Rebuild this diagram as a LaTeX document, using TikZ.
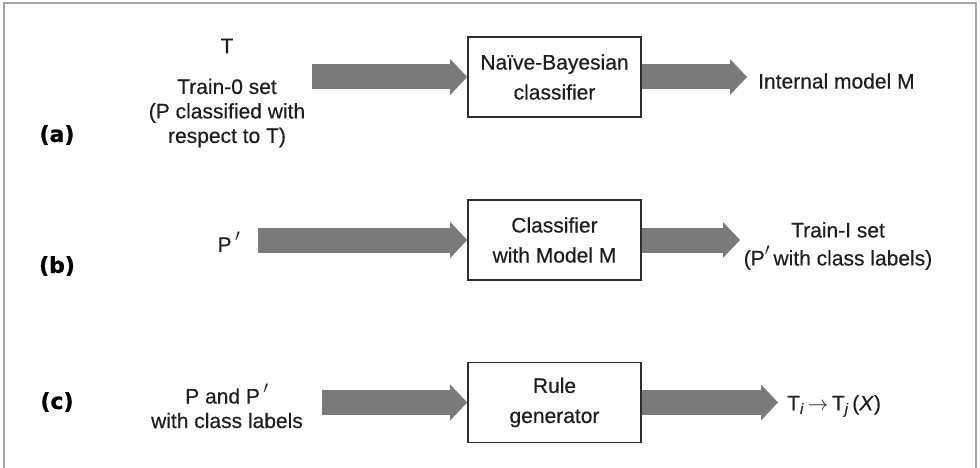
\documentclass[tikz,border=0pt]{standalone}
\usepackage{fontspec}
\setmainfont[FakeBold=0.4]{Liberation Sans}
\newfontfamily\tagfont[FakeBold=1.2]{DejaVu Sans}
\usetikzlibrary{arrows.meta}

\definecolor{arrowgray}{HTML}{7A7A7A}
\definecolor{boxgray}{HTML}{2E2E2E}
\definecolor{framegray}{HTML}{A6A6A6}
\definecolor{textgray}{HTML}{1E1E1E}

\newcommand{\bigprime}{\raisebox{0.1ex}{\fontsize{27}{27}\selectfont$'$}}

\tikzset{
    fatarrow/.style = {arrowgray, line width=25pt, -{Triangle[length=17pt, width=36pt, line width=0pt]}},
    procbox/.style = {draw=boxgray, line width=1.6pt, fill=white, minimum width=173pt, minimum height=80pt,
        align=center, text=textgray, font={\fontsize{21}{30}\selectfont}},
    datatext/.style = {inner sep=0pt, align=center, text=textgray, font={\fontsize{21}{24.5}\selectfont}},
    rowtag/.style = {inner sep=0pt, text=black, font={\tagfont\bfseries\fontsize{22}{24}\selectfont}}
}

\begin{document}
\begin{tikzpicture}[x=1pt, y=-1pt]
        \useasboundingbox (0, 0) rectangle (980, 468);
        \draw[framegray, line width=2pt] (4, 468) -- (4, 3) -- (976, 3) -- (976, 468);

        \node[rowtag] (tagA) at (57, 135) {(a)};
        \node[rowtag] (tagB) at (57, 266) {(b)};
        \node[rowtag] (tagC) at (57, 402) {(c)};

        \node[procbox] (bayes) at (554.5, 77) {Naïve-Bayesian\\classifier};
        \node[procbox] (classify) at (554.5, 240) {Classifier\\with Model M};
        \node[procbox] (rulegen) at (554.5, 402.5) {Rule\\generator};

        \node[datatext] (taxonomy) at (227, 46) {T};
        \node[datatext] (trainzero) at (227, 113) {Train-0 set\\(P classified with\\respect to T)};
        \node[datatext] (pprime) at (229, 242) {P\,\bigprime};
        \node[datatext] (pboth) at (227, 406) {P and P\,\bigprime\\with class labels};

        \node[datatext, anchor=west] (model) at (758, 81) {Internal model M};
        \node[datatext, font={\fontsize{21}{28}\selectfont}] (trainone) at (838, 246) {Train-I set\\(P\bigprime\,with class labels)};
        \node[datatext, anchor=west] (rules) at (787, 406) {T\textsubscript{\textit{i}}\,$\rightarrow$\,T\textsubscript{\textit{j}}\,(\textit{X})};

        \coordinate (inA) at (312, 77);
        \coordinate (outA) at (747, 77);
        \coordinate (inB) at (258, 240);
        \coordinate (outB) at (740, 240);
        \coordinate (inC) at (322, 402.5);
        \coordinate (outC) at (778, 402.5);

        \draw[fatarrow] (inA) -- (bayes.west);
        \draw[fatarrow] (bayes.east) -- (outA);
        \draw[fatarrow] (inB) -- (classify.west);
        \draw[fatarrow] (classify.east) -- (outB);
        \draw[fatarrow] (inC) -- (rulegen.west);
        \draw[fatarrow] (rulegen.east) -- (outC);
    \end{tikzpicture}
\end{document}
